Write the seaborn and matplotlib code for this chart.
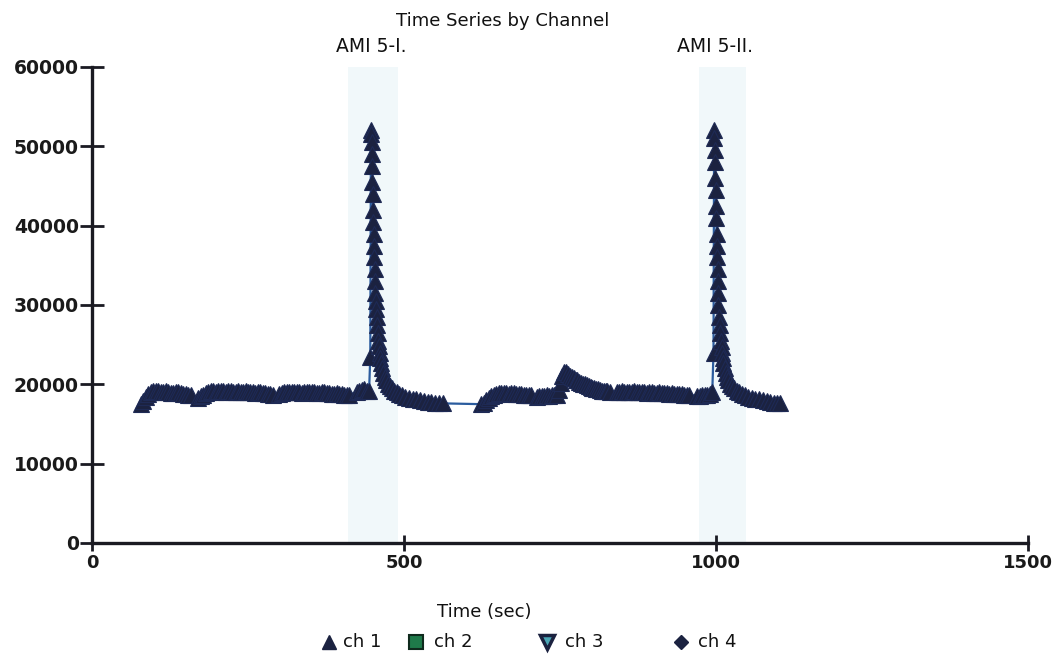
import matplotlib
matplotlib.use("Agg")
import matplotlib.pyplot as plt
from matplotlib.lines import Line2D
import seaborn as sns
import pandas as pd

# ---- data ----
t_seg1 = [78, 82, 86, 90, 94, 98, 102, 106, 110, 114, 118, 122, 126, 130, 134, 138, 142, 146, 150, 154, 158]
v_seg1 = [17500, 17900, 18400, 18800, 19000, 19100, 19200, 19100, 19000, 19000, 19100, 19000, 18900, 18900,
          19000, 19000, 18900, 18800, 18800, 18700, 18600]

t_seg2 = [170, 174, 178, 182, 186, 190, 194, 198, 202, 206, 210, 214, 218, 222, 226, 230, 234, 238, 242, 246,
          250, 254, 258, 262, 266, 270, 274, 278, 282, 286, 290]
v_seg2 = [18300, 18500, 18700, 18900, 19000, 19100, 19100, 19000, 19100, 19200, 19100, 19000, 19100, 19100,
          19000, 19000, 19100, 19000, 19000, 19100, 19000, 19000, 19000, 18900, 19000, 19000, 18900, 18900,
          18800, 18800, 18700]

t_seg3 = [300, 304, 308, 312, 316, 320, 324, 328, 332, 336, 340, 344, 348, 352, 356, 360, 364, 368, 372, 376,
          380, 384, 388, 392, 396, 400, 404, 408, 412]
v_seg3 = [18800, 18900, 19000, 19000, 19000, 19000, 19000, 19000, 19000, 18900, 19000, 19000, 19000, 19000,
          19000, 18900, 18900, 19000, 19000, 18900, 18900, 18800, 18800, 18900, 18800, 18800, 18700, 18700, 18700]

t_peak1 = [424, 428, 432, 436, 440, 444, 446, 447, 447.5, 448, 448.5, 449, 449.5, 450, 450.5, 451, 451.5, 452,
           452.5, 453, 453.5, 454, 454.5, 455, 456, 457, 458, 459, 460, 461, 462, 463, 465, 467, 469, 471, 474,
           477, 480, 484, 488, 492, 497, 502, 508, 514, 520, 526, 532, 538, 544, 550, 556, 562]
v_peak1 = [19000, 19200, 19300, 19400, 19200, 19100, 23500, 52000, 51500, 50500, 49000, 47500, 45500, 44000,
           42000, 40500, 39000, 37500, 36000, 34500, 33000, 31500, 30500, 29500, 28500, 27500, 26500, 25500,
           24800, 24000, 23300, 22700, 22000, 21400, 20900, 20500, 20100, 19800, 19500, 19200, 19000, 18800,
           18600, 18400, 18300, 18200, 18100, 18000, 17900, 17800, 17800, 17700, 17600, 17600]

t_seg5 = [624, 628, 632, 636, 640, 644, 648, 652, 656, 660, 664, 668, 672, 676, 680, 684, 688, 692, 696, 700, 704]
v_seg5 = [17500, 17700, 18000, 18300, 18500, 18700, 18800, 18900, 18900, 18900, 18900, 18800, 18900, 18900,
          18800, 18800, 18800, 18700, 18700, 18600, 18600]

t_seg6 = [713, 717, 721, 725, 729, 733, 737, 741, 745, 748, 751, 754, 757, 760, 763, 766, 769, 772, 775, 778,
          781, 784, 787, 790, 793, 796, 799, 802, 805, 808, 811, 814, 817, 820, 823, 826, 830]
v_seg6 = [18400, 18500, 18500, 18500, 18600, 18500, 18600, 18600, 18700, 19300, 20200, 21000, 21500, 21500,
          21300, 21100, 20900, 20800, 20600, 20500, 20300, 20200, 20100, 20000, 19900, 19800, 19700, 19600,
          19500, 19400, 19400, 19300, 19200, 19200, 19100, 19100, 19000]

t_seg7 = [841, 845, 849, 853, 857, 861, 865, 869, 873, 877, 881, 885, 889, 893, 897, 901, 905, 909, 913, 917,
          921, 925, 929, 933, 937, 941, 945, 949, 953, 957]
v_seg7 = [19000, 19000, 19100, 19000, 19000, 19000, 19000, 19100, 19000, 19000, 19000, 19000, 18900, 19000,
          19000, 18900, 18900, 19000, 18900, 18900, 18900, 18800, 18900, 18800, 18800, 18800, 18800, 18700,
          18700, 18700]

t_peak2 = [970, 974, 978, 982, 986, 990, 994, 996, 997, 997.5, 998, 998.5, 999, 999.5, 1000, 1000.5, 1001,
           1001.5, 1002, 1002.5, 1003, 1003.5, 1004, 1005, 1006, 1007, 1008, 1009, 1010, 1011, 1012, 1014,
           1016, 1018, 1020, 1023, 1026, 1029, 1033, 1037, 1041, 1046, 1051, 1057, 1063, 1069, 1075, 1081,
           1087, 1093, 1098, 1103]
v_peak2 = [18500, 18500, 18600, 18600, 18700, 18800, 19000, 24000, 52000, 51000, 49500, 48000, 46000, 44500,
           42500, 41000, 39000, 37500, 36000, 34500, 33000, 31500, 30000, 28500, 27500, 26500, 25500, 24700,
           24000, 23300, 22700, 22000, 21400, 20900, 20500, 20100, 19800, 19500, 19200, 19000, 18800, 18600,
           18400, 18300, 18200, 18100, 18000, 17900, 17800, 17700, 17600, 17600]

event_labels = ["AMI 5-I.", "AMI 5-II."]
event_x = [448, 998]
event_spans = [(411, 490), (973, 1048)]

x_ticks = [0, 500, 1000, 1500]
y_ticks = [0, 10000, 20000, 30000, 40000, 50000, 60000]
channels = ["ch 1", "ch 2", "ch 3", "ch 4"]

times = t_seg1 + t_seg2 + t_seg3 + t_peak1 + t_seg5 + t_seg6 + t_seg7 + t_peak2
values = v_seg1 + v_seg2 + v_seg3 + v_peak1 + v_seg5 + v_seg6 + v_seg7 + v_peak2
df = pd.DataFrame({"time": times, "value": values})

# ---- figure ----
sns.set_theme(style="white")
plt.rcParams['font.family'] = ['DejaVu Sans']

W, H = 1055, 655
fig = plt.figure(figsize=(W / 100, H / 100), dpi=100)
ax = fig.add_axes([92 / W, 1 - 543 / H, 936 / W, 476 / H])

for (a, b) in event_spans:
    ax.axvspan(a, b, color="#f1f8fa", zorder=0, lw=0)

navy = "#1b2240"
sns.lineplot(data=df, x="time", y="value", ax=ax, sort=False, estimator=None,
             color="#2b5c9e", linewidth=1.6, marker="^", markersize=11,
             markerfacecolor=navy, markeredgecolor="#1e2a55", markeredgewidth=0.8, zorder=3)

for lab, xv in zip(event_labels, event_x):
    ax.text(xv, 62600, lab, ha="center", va="center", fontsize=13.5, color="#111111", clip_on=False)

ax.set_xlim(0, 1500)
ax.set_ylim(0, 60000)
ax.set_xticks(x_ticks)
ax.set_yticks(y_ticks)
ax.set_xticklabels([str(v) for v in x_ticks], fontsize=13, fontweight="bold", color="#1a1a1a")
ax.set_yticklabels([str(v) for v in y_ticks], fontsize=13.5, fontweight="bold", color="#1a1a1a")
ax.set_xlabel("")
ax.set_ylabel("")

for s in ["top", "right"]:
    ax.spines[s].set_visible(False)
for s in ["left", "bottom"]:
    ax.spines[s].set_linewidth(2.4)
    ax.spines[s].set_color("#1a1a22")
ax.tick_params(axis="y", direction="inout", length=17, width=2, color="#1a1a22", pad=1, left=True)
ax.tick_params(axis="x", direction="inout", length=12, width=2, color="#1a1a22", pad=2, bottom=True)
ax.grid(False)
ax.set_facecolor("white")

fig.text(503 / W, 1 - 21 / H, "Time Series by Channel", ha="center", va="center",
         fontsize=13, color="#111111")
fig.text(484 / W, 1 - 612 / H, "Time (sec)", ha="center", va="center",
         fontsize=13, color="#111111")

# legend (entries placed individually, as in the reference)
leg_y = 1 - 642 / H
leg_marker_x = [329, 416, 547, 681]
leg_text_x = [343, 434, 565, 698]
leg_styles = [
    dict(marker="^", markersize=10, markerfacecolor=navy, markeredgecolor=navy),
    dict(marker="s", markersize=10, markerfacecolor="#1f7a4a", markeredgecolor="#0f2a1d", markeredgewidth=1.5),
    dict(marker="v", markersize=10, markerfacecolor="#4aa6b5", markeredgecolor=navy, markeredgewidth=2.5),
    dict(marker="D", markersize=7, markerfacecolor=navy, markeredgecolor=navy),
]
for name, mx, tx, st in zip(channels, leg_marker_x, leg_text_x, leg_styles):
    fig.add_artist(Line2D([mx / W], [leg_y], transform=fig.transFigure, ls="none", **st))
    fig.text(tx / W, leg_y, name, ha="left", va="center", fontsize=13, color="#111111")

fig.savefig("out.png", dpi=100, facecolor="white")
